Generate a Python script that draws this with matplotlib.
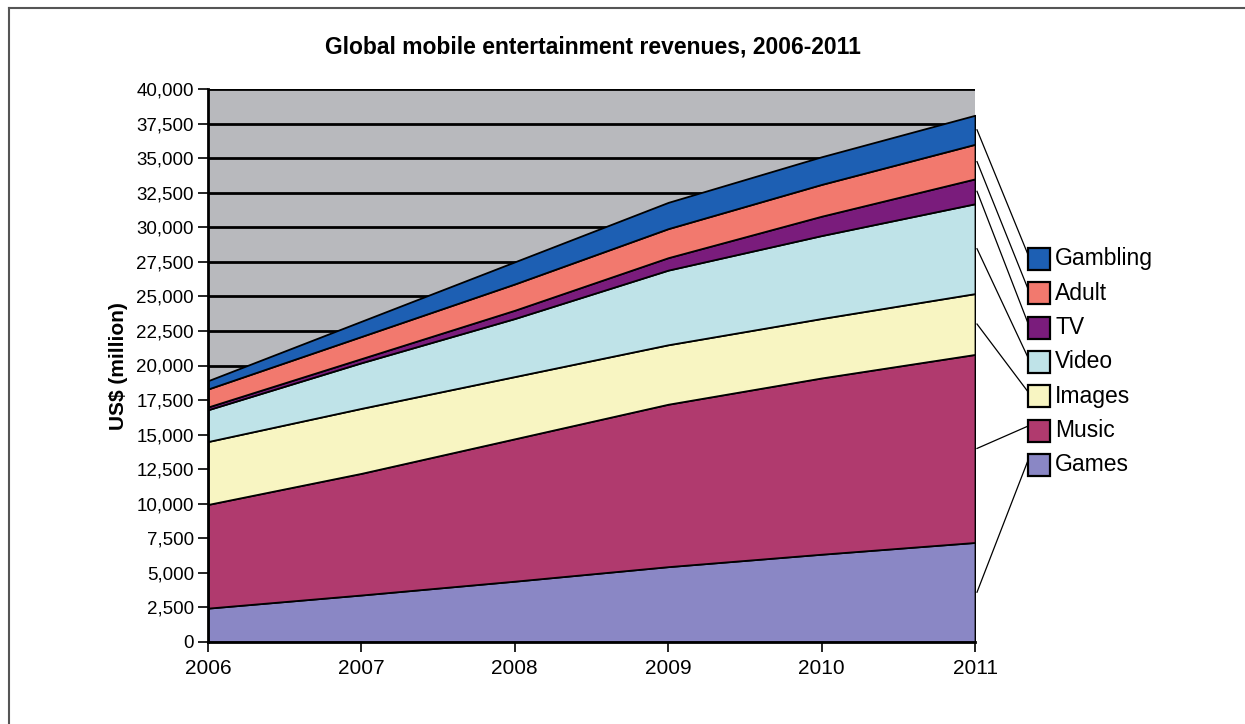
import numpy as np
import matplotlib
matplotlib.use("Agg")
import matplotlib.pyplot as plt
from matplotlib.patches import Rectangle
from matplotlib.lines import Line2D

plt.rcParams['font.family'] = ['Liberation Sans', 'DejaVu Sans']

years = [2006, 2007, 2008, 2009, 2010, 2011]
series = ['Games', 'Music', 'Images', 'Video', 'TV', 'Adult', 'Gambling']

# revenues in US$ million, per segment (not cumulative)
games = [2450, 3400, 4400, 5450, 6350, 7200]
music = [7500, 8800, 10300, 11750, 12750, 13600]
images = [4550, 4700, 4500, 4300, 4300, 4400]
video = [2300, 3300, 4200, 5400, 6000, 6500]
tv = [200, 300, 600, 900, 1400, 1800]
adult = [1300, 1600, 1900, 2100, 2300, 2500]
gambling = [600, 1100, 1600, 1900, 2000, 2100]

colors = ['#8a87c5', '#b03a6e', '#f8f5c2', '#bfe3e8', '#7a1c7c', '#f2796e', '#1d5fb3']

values = [games, music, images, video, tv, adult, gambling]

fig = plt.figure(figsize=(12.45, 7.24), dpi=100)
ax = fig.add_axes([208 / 1245, 1 - 642 / 724, (975 - 208) / 1245, (642 - 89) / 724])
ax.set_facecolor('#b8b9bd')

for y in range(2500, 40001, 2500):
    ax.axhline(y, color='black', lw=2, zorder=1)

polys = ax.stackplot(years, *values, colors=colors, edgecolor='black', linewidth=1.3, zorder=2)

ax.set_xlim(2006, 2011)
ax.set_ylim(0, 40000)
ax.set_xticks(years)
ax.set_yticks(range(0, 40001, 2500))
ax.set_yticklabels([f'{v:,}' for v in range(0, 40001, 2500)])
ax.tick_params(length=7, width=1.2, colors='black', direction='out')
ax.tick_params(axis='y', labelsize=13.5, pad=3)
ax.tick_params(axis='x', labelsize=15, pad=5)
for s in ['left', 'bottom']:
    ax.spines[s].set_linewidth(2)
for s in ['top', 'right']:
    ax.spines[s].set_visible(False)

fig.text(118 / 1245, 1 - 366 / 724, 'US$ (million)', rotation=90, ha='center', va='center',
         fontsize=15, fontweight='bold')
fig.text(593 / 1245, 1 - 47 / 724, 'Global mobile entertainment revenues, 2006-2011',
         ha='center', va='center', fontsize=16.5, fontweight='bold')

# legend with leader lines
cum = np.cumsum(np.array(values), axis=0)
lasts = cum[:, -1]
mids = lasts - np.array(values)[:, -1] / 2
box_x = 1028 / 1245
box_w = 22 / 1245
box_h = 22 / 724
for i, name in enumerate(series[::-1]):
    k = len(series) - 1 - i
    cy = 1 - (259 + i * 34.3) / 724
    fig.patches.append(Rectangle((box_x, cy - box_h / 2), box_w, box_h, transform=fig.transFigure,
                                 facecolor=colors[k], edgecolor='black', lw=1.6))
    fig.text(1055 / 1245, cy, name, ha='left', va='center', fontsize=16.5)
    # start point from band middle at 2011
    sx, sy = fig.transFigure.inverted().transform(ax.transData.transform((2011, mids[k])))
    fig.lines.append(Line2D([sx + 2 / 1245, box_x], [sy, cy + box_h * 0.2], transform=fig.transFigure,
                            color='black', lw=0.9))

# outer frame
fig.lines.append(Line2D([9 / 1245, 1], [1 - 8 / 724, 1 - 8 / 724], transform=fig.transFigure, color='#555555', lw=1.5))
fig.lines.append(Line2D([9 / 1245, 9 / 1245], [0, 1 - 8 / 724], transform=fig.transFigure, color='#555555', lw=1.5))

fig.savefig('out.png', dpi=100)
